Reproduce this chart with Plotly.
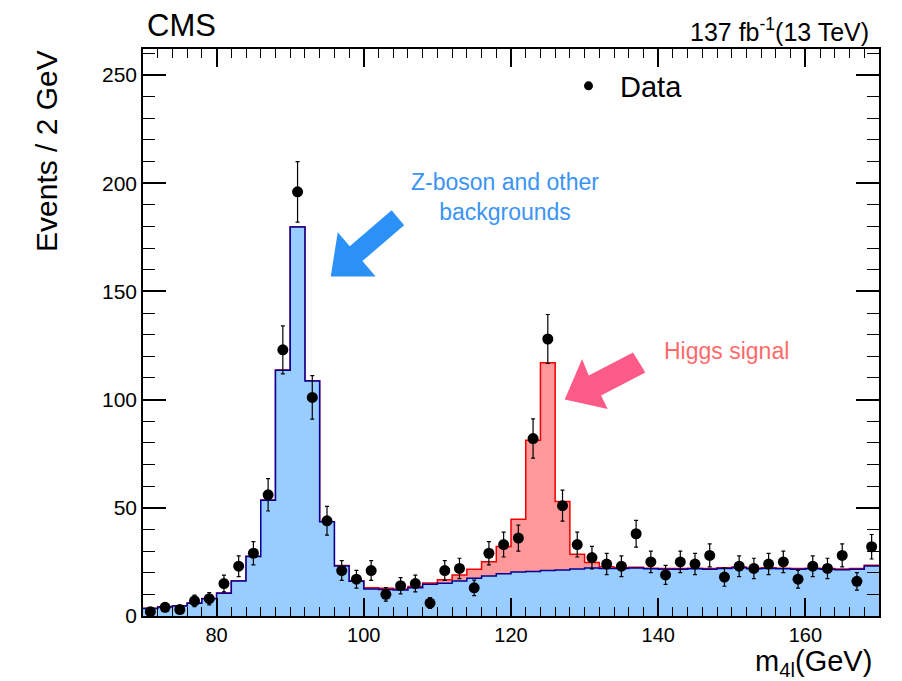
import numpy as np
import plotly.graph_objects as go

# ---------------- data ----------------
bin_edges = list(range(70, 172, 2))          # 70 ... 170
bin_centers = list(range(71, 171, 2))        # 71 ... 169

data_counts = [2, 4, 3, 7, 8, 15, 23, 29, 56, 123,
               196, 101, 44, 21, 17, 21, 10, 14, 15, 6,
               21, 22, 13, 29, 33, 36, 82, 128, 51, 33,
               27, 24, 23, 38, 25, 19, 25, 24, 28, 18,
               23, 22, 24, 25, 17, 23, 22, 28, 16, 32]

background = [3.5, 4.2, 4.6, 5.9, 8.0, 10.5, 16.2, 27.5, 53.5, 113.6,
              179.8, 108.6, 43.5, 23.1, 16.0, 12.5, 12.3, 12.0, 13.1, 14.7,
              15.1, 16.2, 17.4, 18.5, 19.5, 20.3, 20.6, 21.0, 21.3, 21.7,
              22.2, 22.0, 22.0, 22.2, 21.8, 21.6, 21.6, 21.8, 21.6, 22.0,
              22.3, 21.8, 22.0, 21.8, 21.6, 21.8, 21.6, 21.4, 21.6, 23.1]

signal = [0.1, 0.1, 0.1, 0.1, 0.1, 0.1, 0.1, 0.1, 0.1, 0.1,
          0.1, 0.1, 0.1, 0.2, 0.3, 0.5, 0.5, 0.5, 0.5, 0.5,
          1.6, 2.8, 4.2, 6.6, 12.6, 24.4, 60.6, 96.0, 31.6, 6.8,
          2.5, 0.8, 0.3, 0.3, 0.3, 0.3, 0.3, 0.3, 0.3, 0.3,
          0.3, 0.3, 0.3, 0.3, 0.3, 0.3, 0.3, 0.3, 0.3, 0.3]

x_tick_vals = [80, 100, 120, 140, 160]
y_tick_vals = [0, 50, 100, 150, 200, 250]

# ---------------- derived ----------------
total = [b + s for b, s in zip(background, signal)]
step_total = total + [total[-1]]
step_bkg = background + [background[-1]]
errs = [float(np.sqrt(n)) for n in data_counts]

FONT = "Liberation Sans, Arial, Helvetica, sans-serif"

fig = go.Figure()

# signal + background (stacked total)
fig.add_trace(go.Scatter(
    x=bin_edges, y=step_total, mode="lines", line=dict(shape="hv", color="#ee0000", width=1.5),
    fill="tozeroy", fillcolor="#ff9999", showlegend=False, hoverinfo="skip"))

# background
fig.add_trace(go.Scatter(
    x=bin_edges, y=step_bkg, mode="lines", line=dict(shape="hv", color="#000099", width=1.5),
    fill="tozeroy", fillcolor="#99ccff", showlegend=False, hoverinfo="skip"))

# data
fig.add_trace(go.Scatter(
    x=bin_centers, y=data_counts, mode="markers",
    marker=dict(color="black", size=11),
    error_y=dict(type="data", array=errs, color="black", thickness=1.2, width=2),
    showlegend=False))

# legend entry (no coordinates)
fig.add_trace(go.Scatter(
    x=[None], y=[None], mode="markers", marker=dict(color="black", size=9),
    name="Data", showlegend=True))

# ---------------- big arrows (decorations) ----------------
blue_arrow = [(95.51, 156.9), (96.46, 177.3), (98.09, 170.8), (103.79, 187.5),
              (105.48, 180.6), (99.81, 164.0), (101.61, 156.9)]
pink_arrow = [(127.30, 100.0), (129.66, 118.8), (130.56, 111.1), (136.58, 121.8),
              (138.25, 112.5), (132.24, 101.9), (133.14, 95.7)]


def poly_path(pts):
    return "M " + " L ".join(f"{x},{y}" for x, y in pts) + " Z"


fig.add_shape(type="path", path=poly_path(blue_arrow), xref="x", yref="y",
              fillcolor="#2b91f7", line=dict(width=0), layer="above")
fig.add_shape(type="path", path=poly_path(pink_arrow), xref="x", yref="y",
              fillcolor="#fc5b87", line=dict(width=0), layer="above")

# ---------------- layout ----------------
L, R, T, B = 143, 23, 49, 65
W, H = 902, 681
pw, ph = W - L - R, H - T - B


def px(x):
    return (x - L) / pw


def py(y):
    return (H - B - y) / ph


annotations = [
    dict(text="CMS", x=px(145), y=py(25), xanchor="left", yanchor="middle",
         font=dict(size=31, color="black", family=FONT)),
    dict(text="137 fb<sup>-1</sup>(13 TeV)", x=px(871), y=py(30), xanchor="right", yanchor="middle",
         font=dict(size=25, color="black", family=FONT)),
    dict(text="Events / 2 GeV", x=px(46), y=py(151), textangle=-90, xanchor="center", yanchor="middle",
         font=dict(size=30, color="black", family=FONT)),
    dict(text="m<sub>4l</sub>(GeV)", x=px(874), y=py(663), xanchor="right", yanchor="middle",
         font=dict(size=29, color="black", family=FONT)),
    dict(text="Z-boson and other<br>backgrounds", x=px(505), y=py(197), xanchor="center", yanchor="middle",
         font=dict(size=23, color="#3a94f5", family=FONT)),
    dict(text="Higgs signal", x=px(726), y=py(351), xanchor="center", yanchor="middle",
         font=dict(size=23, color="#ff6b6b", family=FONT)),
]
for a in annotations:
    a.update(xref="paper", yref="paper", showarrow=False)

fig.update_layout(
    width=W, height=H,
    margin=dict(l=L, r=R, t=T, b=B),
    paper_bgcolor="white", plot_bgcolor="white",
    font=dict(family=FONT, color="black"),
    annotations=annotations,
    showlegend=True,
    legend=dict(x=px(557), y=py(86), xanchor="left", yanchor="middle",
                font=dict(size=29, family=FONT, color="black"),
                bgcolor="rgba(0,0,0,0)", itemwidth=53),
)

fig.update_xaxes(
    range=[70, 170], tickvals=x_tick_vals, ticks="inside", ticklen=18, tickwidth=1.5,
    tickcolor="black", showline=True, linecolor="black", linewidth=1.5, mirror="ticks",
    showgrid=False, zeroline=False, tickfont=dict(size=20, family=FONT, color="black"),
    minor=dict(dtick=2, ticks="inside", ticklen=9, tickwidth=1.2, tickcolor="black", showgrid=False),
)
fig.update_yaxes(
    range=[0, 262], tickvals=y_tick_vals, ticks="inside", ticklen=23, tickwidth=1.5,
    tickcolor="black", showline=True, linecolor="black", linewidth=1.5, mirror="ticks",
    showgrid=False, zeroline=False, tickfont=dict(size=21, family=FONT, color="black"),
    minor=dict(dtick=10, ticks="inside", ticklen=12, tickwidth=1.2, tickcolor="black", showgrid=False),
)

fig.write_html("out.html")
